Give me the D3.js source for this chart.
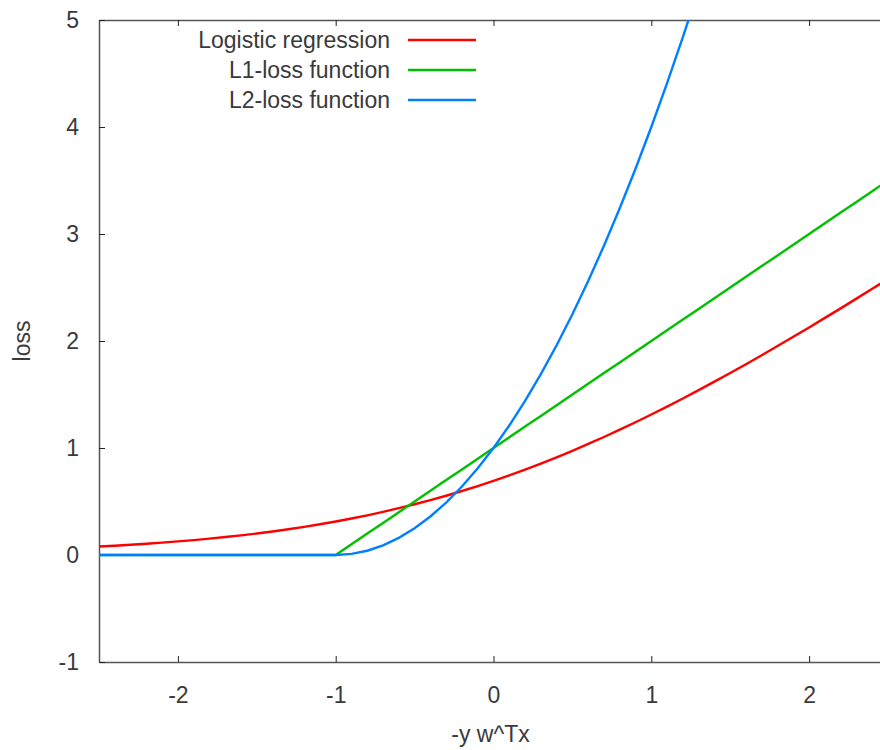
<!DOCTYPE html>
<html lang="en">
<head>
  <meta charset="UTF-8">
  <title>Loss functions</title>
  <script src="https://d3js.org/d3.v7.min.js"></script>
  <style>
    body { margin: 0; padding: 0; background: #fff; overflow: hidden; }
    svg text { font-family: "Liberation Sans", Arial, sans-serif; fill: #3a3a3a; }
  </style>
</head>
<body>
  <div id="chart"></div>
  <script>
    // sample points along -y w^Tx
    const xs = [-2.5, -2.4, -2.3, -2.2, -2.1, -2.0, -1.9, -1.8, -1.7, -1.6, -1.5, -1.4, -1.3, -1.2, -1.1,
      -1.0, -0.9, -0.8, -0.7, -0.6, -0.5, -0.4, -0.3, -0.2, -0.1, 0.0, 0.1, 0.2, 0.3, 0.4, 0.5,
      0.6, 0.7, 0.8, 0.9, 1.0, 1.1, 1.2, 1.3, 1.4, 1.5, 1.6, 1.7, 1.8, 1.9, 2.0, 2.1, 2.2, 2.3, 2.4, 2.5];

    const logistic = [0.079, 0.087, 0.096, 0.105, 0.116, 0.127, 0.139, 0.153, 0.168, 0.183, 0.201, 0.220, 0.241, 0.263, 0.287,
      0.313, 0.341, 0.371, 0.403, 0.438, 0.474, 0.513, 0.554, 0.598, 0.644, 0.693, 0.744, 0.798, 0.854, 0.913, 0.974,
      1.038, 1.103, 1.171, 1.241, 1.313, 1.387, 1.463, 1.541, 1.620, 1.701, 1.783, 1.867, 1.953, 2.039, 2.127, 2.216, 2.305, 2.396, 2.488, 2.579];

    const l1loss = [0, 0, 0, 0, 0, 0, 0, 0, 0, 0, 0, 0, 0, 0, 0,
      0, 0.1, 0.2, 0.3, 0.4, 0.5, 0.6, 0.7, 0.8, 0.9, 1.0, 1.1, 1.2, 1.3, 1.4, 1.5,
      1.6, 1.7, 1.8, 1.9, 2.0, 2.1, 2.2, 2.3, 2.4, 2.5, 2.6, 2.7, 2.8, 2.9, 3.0, 3.1, 3.2, 3.3, 3.4, 3.5];

    const l2loss = [0, 0, 0, 0, 0, 0, 0, 0, 0, 0, 0, 0, 0, 0, 0,
      0, 0.01, 0.04, 0.09, 0.16, 0.25, 0.36, 0.49, 0.64, 0.81, 1.0, 1.21, 1.44, 1.69, 1.96, 2.25,
      2.56, 2.89, 3.24, 3.61, 4.0, 4.41, 4.84, 5.29, null, null, null, null, null, null, null, null, null, null, null, null];

    const seriesNames = ["Logistic regression", "L1-loss function", "L2-loss function"];
    const seriesColors = ["#ff0000", "#00c000", "#0080ff"];
    const xTicks = [-2, -1, 0, 1, 2];
    const yTicks = [-1, 0, 1, 2, 3, 4, 5];

    const margin = { top: 20, right: -8, bottom: 88, left: 99 };
    const W = 880, H = 750;
    const width = W - margin.left - margin.right;
    const height = H - margin.top - margin.bottom;
    const fontSize = 23;

    const svg = d3.select("#chart").append("svg")
      .attr("width", W)
      .attr("height", H);

    const g = svg.append("g")
      .attr("transform", `translate(${margin.left},${margin.top})`);

    const x = d3.scaleLinear().domain([-2.5, 2.5]).range([0, width]);
    const y = d3.scaleLinear().domain([-1, 5]).range([height, 0]);

    g.append("clipPath").attr("id", "clip")
      .append("rect").attr("width", width).attr("height", height);

    // frame with inward ticks on all four sides
    const axisColor = "#555";
    const tickLen = 6;
    const axes = [
      { gen: d3.axisBottom(x), tr: `translate(0,${height})`, lbl: true },
      { gen: d3.axisTop(x), tr: "translate(0,0)", lbl: false },
      { gen: d3.axisLeft(y), tr: "translate(0,0)", lbl: true },
      { gen: d3.axisRight(y), tr: `translate(${width},0)`, lbl: false }
    ];
    axes.forEach((a, i) => {
      const isX = i < 2;
      a.gen.tickValues(isX ? xTicks : yTicks)
        .tickSizeInner(-tickLen).tickSizeOuter(0)
        .tickPadding(isX ? 25 : 20)
        .tickFormat(a.lbl ? (d => String(d)) : "");
      const ax = g.append("g").attr("transform", a.tr).call(a.gen);
      ax.select(".domain").attr("stroke", axisColor).attr("stroke-width", 1.5);
      ax.selectAll(".tick line").attr("stroke", "#222").attr("stroke-width", 1);
      ax.selectAll(".tick text").attr("font-size", fontSize).attr("fill", "#3a3a3a");
    });

    const line = d3.line()
      .defined(d => d[1] !== null)
      .x(d => x(d[0]))
      .y(d => y(d[1]));

    const series = [logistic, l1loss, l2loss];
    series.forEach((vals, i) => {
      g.append("path")
        .datum(xs.map((v, k) => [v, vals[k]]))
        .attr("clip-path", "url(#clip)")
        .attr("fill", "none")
        .attr("stroke", seriesColors[i])
        .attr("stroke-width", 2.4)
        .attr("d", line);
    });

    // legend
    const legend = svg.append("g");
    seriesNames.forEach((name, i) => {
      const ly = 40 + i * 30;
      legend.append("text")
        .attr("x", 390).attr("y", ly)
        .attr("dy", "0.35em")
        .attr("text-anchor", "end")
        .attr("font-size", fontSize)
        .text(name);
      legend.append("line")
        .attr("x1", 408).attr("x2", 476)
        .attr("y1", ly).attr("y2", ly)
        .attr("stroke", seriesColors[i])
        .attr("stroke-width", 2.4);
    });

    // axis titles
    svg.append("text")
      .attr("x", margin.left + x(0) - 3).attr("y", 742)
      .attr("text-anchor", "middle")
      .attr("font-size", fontSize)
      .text("-y w^Tx");

    svg.append("text")
      .attr("transform", `translate(30,${margin.top + y(2)}) rotate(-90)`)
      .attr("text-anchor", "middle")
      .attr("font-size", fontSize)
      .text("loss");
  </script>
</body>
</html>
